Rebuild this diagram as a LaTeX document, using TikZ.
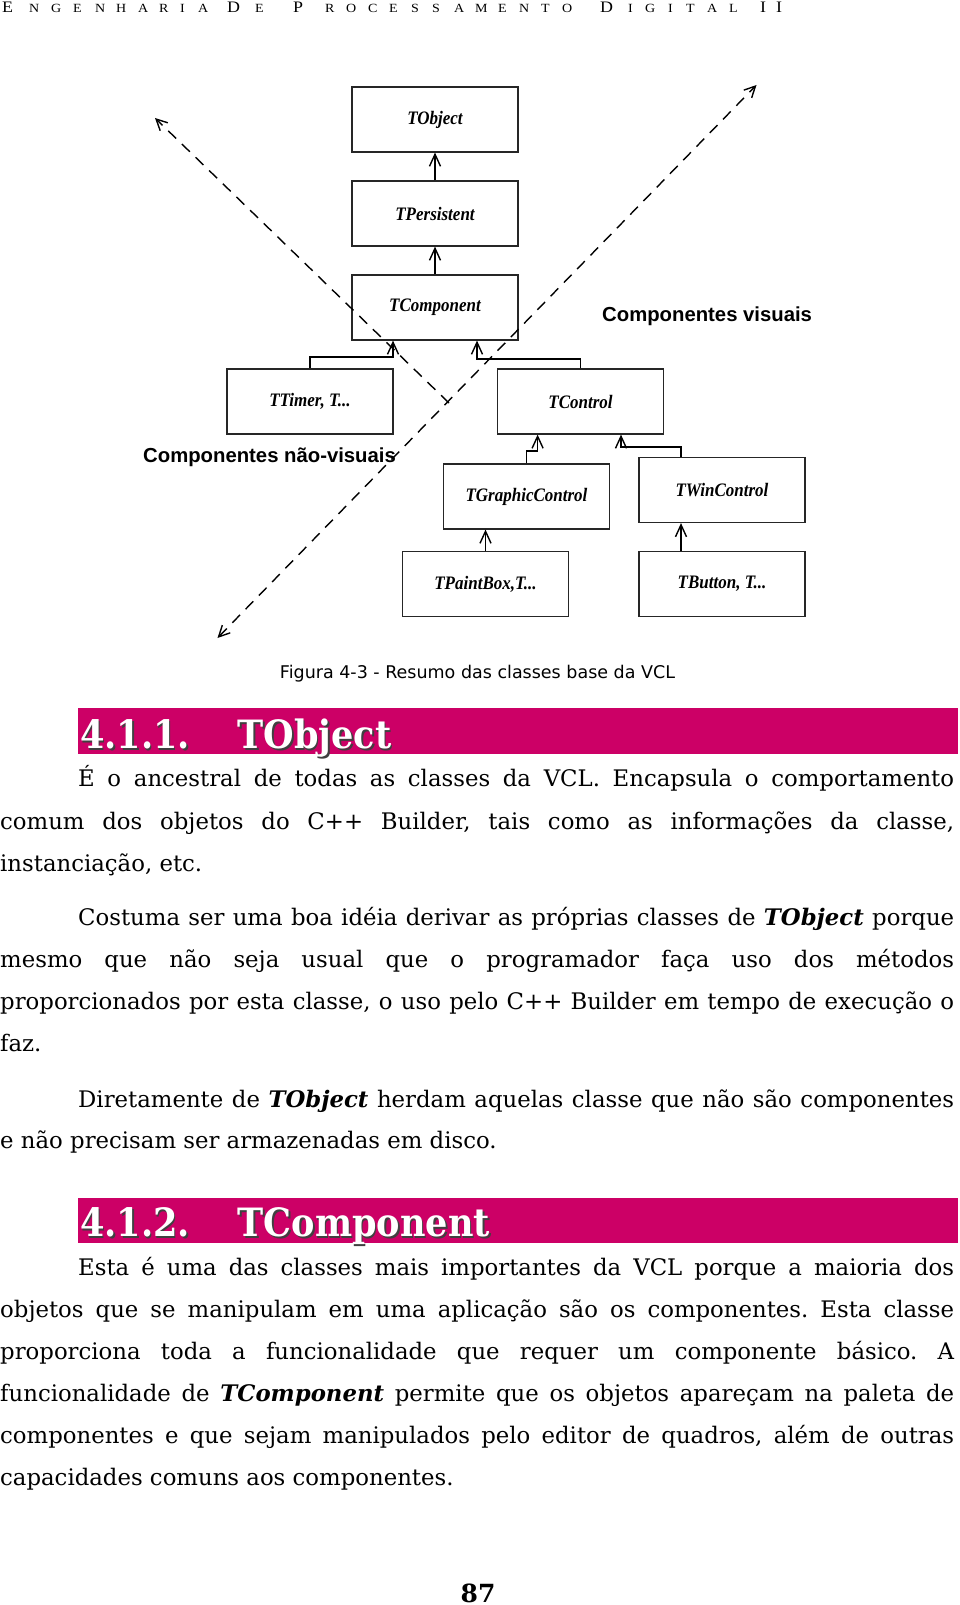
\documentclass[tikz,border=0pt]{standalone}
\usepackage{graphicx}
\usepackage{fontspec}
\setmainfont{DejaVu Serif}
\newfontfamily\boxfont{Liberation Serif}
\newfontfamily\lblfont{Liberation Sans}
\newfontfamily\capfont{DejaVu Sans}
\newfontfamily\hdrfont{Liberation Serif}
\usetikzlibrary{arrows.meta}
\definecolor{bandcol}{HTML}{CC0066}
\newcommand\fullline[1]{\makebox[954pt][s]{#1}}
\newcommand\indline[1]{\makebox[876pt][s]{#1}}
\newcommand\bitx[1]{\textbf{\textit{#1}}}
\newcommand\boxtxt[1]{\scalebox{1}[1.12]{#1}}
\newcommand\hdtxt[1]{\scalebox{0.9}[1]{#1}}
\newcommand\hdrlet[1]{\scalebox{1.12}[1]{#1}}
\frenchspacing
\begin{document}
\begin{tikzpicture}[x=1pt,y=-1pt,
  cls/.style={draw=black!85, line width=1.2pt, minimum width=166pt, minimum height=65pt, inner sep=0pt,
    font=\boxfont\bfseries\itshape\fontsize{17}{20}\selectfont},
  conn/.style={line width=1.4pt, -{Straight Barb[length=12pt,width=11pt]}},
  zone/.style={line width=1.4pt, dash pattern=on 11pt off 8pt},
  lbl/.style={anchor=base west, inner sep=0pt, font=\lblfont\bfseries\fontsize{20.3}{24}\selectfont},
  hbig/.style={anchor=base west, inner sep=0pt, font=\hdrfont\fontsize{16}{16}\selectfont},
  hsm/.style={anchor=base west, inner sep=0pt, font=\hdrfont\fontsize{12.5}{12.5}\selectfont},
  bodyl/.style={anchor=base west, inner sep=0pt, font=\fontsize{22.8}{26}\selectfont},
  htext/.style={anchor=base west, inner sep=0pt, font=\bfseries\fontsize{39}{40}\selectfont},
]
\useasboundingbox (0,0) rectangle (960,1605);
\fill[white] (0,0) rectangle (960,1605);

% running header
\foreach \xx/\ch [count=\k] in {2/E,227/D,293/P,600/D,760/I,776/I}
  \node[hbig] (hb\k) at (\xx,13) {\hdrlet{\ch}};
\foreach \xx/\ch [count=\k] in {29/N,51/G,73/E,95/N,116/H,138/A,159/R,180/I,198/A,255/E,325/R,346/O,368/C,389/E,411/S,432/S,454/A,475/M,498/E,519/N,541/T,562/O,628/I,645/G,668/I,686/T,707/A,729/L}
  \node[hsm] (hs\k) at (\xx,13) {\hdrlet{\ch}};

% class boxes
\node[cls] (obj)    at (435,119.5) {\boxtxt{TObject}};
\node[cls] (per)    at (435,213.5) {\boxtxt{TPersistent}};
\node[cls] (comp)   at (435,307.5) {\boxtxt{TComponent}};
\node[cls] (timer)  at (310,401.5) {\boxtxt{TTimer, T...}};
\node[cls] (ctrl)   at (580.5,401.5) {\boxtxt{TControl}};
\node[cls] (gctrl)  at (526.5,496.5) {\boxtxt{TGraphicControl}};
\node[cls] (wctrl)  at (722,490) {\boxtxt{TWinControl}};
\node[cls] (paint)  at (485.5,584) {\boxtxt{TPaintBox,T...}};
\node[cls] (button) at (722,584) {\boxtxt{TButton, T...}};

% inheritance connectors
\coordinate (e1) at (393,357);
\coordinate (e2) at (477,359);
\coordinate (e3) at (537.6,451);
\coordinate (w4) at (681,447);
\coordinate (e4) at (621,447);
\draw[conn] (per.north) -- (obj.south);
\draw[conn] (comp.north) -- (per.south);
\draw[conn] (timer.north) |- (e1) -- (e1 |- comp.south);
\draw[conn] (ctrl.north) |- (e2) -- (e2 |- comp.south);
\draw[conn] (gctrl.north) |- (e3) -- (e3 |- ctrl.south);
\draw[conn] (w4 |- wctrl.north) -- (w4) -- (e4) -- (e4 |- ctrl.south);
\draw[conn] (paint.north) -- (paint.north |- gctrl.south);
\draw[conn] (w4 |- button.north) -- (w4 |- wctrl.south);

% zone boundaries
\coordinate (dA) at (155,118);
\coordinate (dB1) at (756.5,85);
\coordinate (dB2) at (217.5,638);
\coordinate (dJ) at (449,403);
\draw[zone, -{Straight Barb[length=11pt,width=11pt]}] (dJ) -- (dA);
\draw[zone, {Straight Barb[length=11pt,width=11pt]}-{Straight Barb[length=11pt,width=11pt]}] (dB2) -- (dB1);

\node[lbl] (vis)  at (602,321) {Componentes visuais};
\node[lbl] (nvis) at (143,462.5) {Componentes não-visuais};

% caption
\node[anchor=base, inner sep=0pt, font=\capfont\fontsize{17.5}{20}\selectfont] (cap) at (477.5,678.5) {Figura 4-3 - Resumo das classes base da VCL};

% heading 1
\fill[bandcol] (78,708) rectangle (958,754);
\node[htext, text=black!75] (h1as) at (81.5,750) {\hdtxt{4.1.1.}};
\node[htext, text=white]    (h1a)  at (80,748) {\hdtxt{4.1.1.}};
\node[htext, text=black!75] (h1bs) at (239,750) {\hdtxt{TObject}};
\node[htext, text=white]    (h1b)  at (237.5,748) {\hdtxt{TObject}};

% paragraphs 1-3
\node[bodyl] (l1)  at (78,786.6)  {\indline{É o ancestral de todas as classes da VCL. Encapsula o comportamento}};
\node[bodyl] (l2)  at (0,829.5)   {\fullline{comum dos objetos do C++ Builder, tais como as informações da classe,}};
\node[bodyl] (l3)  at (0,871.5)   {instanciação, etc.};
\node[bodyl] (l4)  at (78,925.8)  {\indline{Costuma ser uma boa idéia derivar as próprias classes de \bitx{TObject} porque}};
\node[bodyl] (l5)  at (0,967.8)   {\fullline{mesmo que não seja usual que o programador faça uso dos métodos}};
\node[bodyl] (l6)  at (0,1009.7)  {\fullline{proporcionados por esta classe, o uso pelo C++ Builder em tempo de execução o}};
\node[bodyl] (l7)  at (0,1051.7)  {faz.};
\node[bodyl] (l8)  at (78,1107)   {\indline{Diretamente de \bitx{TObject} herdam aquelas classe que não são componentes}};
\node[bodyl] (l9)  at (0,1148.9)  {e não precisam ser armazenadas em disco.};

% heading 2
\fill[bandcol] (78,1197.5) rectangle (958,1242.5);
\node[htext, text=black!75] (h2as) at (81.5,1238.5) {\hdtxt{4.1.2.}};
\node[htext, text=white]    (h2a)  at (80,1236.5) {\hdtxt{4.1.2.}};
\node[htext, text=black!75] (h2bs) at (239,1238.5) {\hdtxt{TComponent}};
\node[htext, text=white]    (h2b)  at (237.5,1236.5) {\hdtxt{TComponent}};

% paragraph 4
\node[bodyl] (l10) at (78,1275.8) {\indline{Esta é uma das classes mais importantes da VCL porque a maioria dos}};
\node[bodyl] (l11) at (0,1317.8)  {\fullline{objetos que se manipulam em uma aplicação são os componentes. Esta classe}};
\node[bodyl] (l12) at (0,1359.8)  {\fullline{proporciona toda a funcionalidade que requer um componente básico. A}};
\node[bodyl] (l13) at (0,1401.7)  {\fullline{funcionalidade de \bitx{TComponent} permite que os objetos apareçam na paleta de}};
\node[bodyl] (l14) at (0,1443.7)  {\fullline{componentes e que sejam manipulados pelo editor de quadros, além de outras}};
\node[bodyl] (l15) at (0,1485.7)  {capacidades comuns aos componentes.};

% page number
\node[anchor=base, inner sep=0pt, font=\bfseries\fontsize{25}{25}\selectfont] (pg) at (478,1602) {87};
\end{tikzpicture}
\end{document}
